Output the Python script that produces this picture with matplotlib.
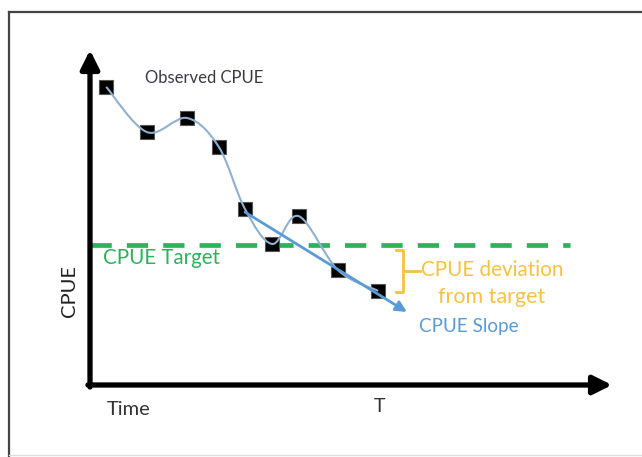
import numpy as np
import matplotlib
matplotlib.use("Agg")
import matplotlib.pyplot as plt
from matplotlib.path import Path
from matplotlib.patches import PathPatch
from matplotlib.lines import Line2D

plt.rcParams['font.family'] = ['Lato', 'DejaVu Sans']

# observed CPUE over time (arbitrary units, axis 0-100)
time = [3.1, 10.9, 18.6, 24.7, 29.7, 34.9, 40.0, 47.5, 55.2]
cpue = [89.0, 75.5, 79.7, 71.0, 52.5, 42.1, 50.4, 34.3, 28.1]
target = 41.8
slope_start = (29.7, 51.6)
slope_end = (60.7, 21.8)

GREEN = '#2cb35a'
BLUE = '#5b9bd5'
CURVE = '#8fb0cf'
GOLD = '#f6c240'


def smooth_path(x, y):
    """Catmull-Rom curve through the points, as a bezier path"""
    pts = np.column_stack([x, y])
    ext = np.vstack([pts[0], pts, pts[-1]])
    verts = [pts[0]]
    codes = [Path.MOVETO]
    for i in range(1, len(ext) - 2):
        p0, p1, p2, p3 = ext[i - 1], ext[i], ext[i + 1], ext[i + 2]
        c1 = p1 + (p2 - p0) / 6.0
        c2 = p2 - (p3 - p1) / 6.0
        verts += [c1, c2, p2]
        codes += [Path.CURVE4] * 3
    return Path(verts, codes)


fig = plt.figure(figsize=(6.42, 4.57), dpi=100)

# outer frame (left/top dark, bottom faint)
fig.add_artist(Line2D([9/642, 9/642], [0.0, 1 - 12/457], color='#444444', lw=1.6))
fig.add_artist(Line2D([9/642, 1.0], [1 - 12/457, 1 - 12/457], color='#444444', lw=1.6))
fig.add_artist(Line2D([9/642, 1.0], [2/457, 2/457], color='#dddddd', lw=1.0))

ax = fig.add_axes([90/642, (457-385)/457, 522/642, 335/457])
ax.set_xlim(0, 100)
ax.set_ylim(0, 100)
ax.axis('off')

# axis arrows
arrow_kw = dict(arrowstyle='-|>', lw=3.8, color='black', mutation_scale=28,
                shrinkA=0, shrinkB=0)
ax.annotate('', xy=(1.0, 0), xytext=(-0.004, 0), xycoords='axes fraction',
            arrowprops=arrow_kw, annotation_clip=False)
ax.annotate('', xy=(0, 1.0), xytext=(0, -0.006), xycoords='axes fraction',
            arrowprops=arrow_kw, annotation_clip=False)

# target line
ax.plot([0, 92], [target, target], color=GREEN, lw=3.4, dashes=(4.5, 3.2),
        solid_capstyle='butt')

# observations + smooth curve
ax.plot(time, cpue, 's', color='black', ms=10, mec='#555555', mew=0.8, zorder=3)
ax.add_patch(PathPatch(smooth_path(time, cpue), fill=False, ec=CURVE, lw=1.5, zorder=4))

# slope arrow
ax.annotate('', xy=slope_end, xytext=slope_start,
            arrowprops=dict(arrowstyle='-|>', lw=2.0, color=BLUE, mutation_scale=16,
                            shrinkA=0, shrinkB=0), zorder=5)

# deviation bracket "}"
bx, top, bot = 60.0, target - 1.5, cpue[-1] - 0.3
mid = (top + bot) / 2
ax.plot([bx - 1.3, bx, bx, bx - 1.3], [top, top, bot, bot], color=GOLD, lw=2.0)
ax.plot([bx, bx + 3.3], [mid, mid], color=GOLD, lw=2.0)

# labels
ax.text(10.5, 91.6, 'Observed CPUE', fontsize=12, color='#3a3a44', va='center')
ax.text(2.5, 38.0, 'CPUE Target', fontsize=14.8, color=GREEN, va='center')
ax.text(63.4, 34.3, 'CPUE deviation', fontsize=14.9, color=GOLD, va='center')
ax.text(77.0, 26.3, 'from target', fontsize=15.5, color=GOLD, va='center', ha='center')
ax.text(63.0, 17.5, 'CPUE Slope', fontsize=13.6, color=BLUE, va='center')
ax.text(-4.0, 28.2, 'CPUE', fontsize=14.5, color='#222222', rotation=90,
        va='center', ha='center')
ax.text(3.2, -7.3, 'Time', fontsize=14.5, color='#333333', va='center')
ax.text(55.4, -6.4, 'T', fontsize=14, color='#333333', va='center', ha='center')

fig.savefig('out.png', dpi=100)
